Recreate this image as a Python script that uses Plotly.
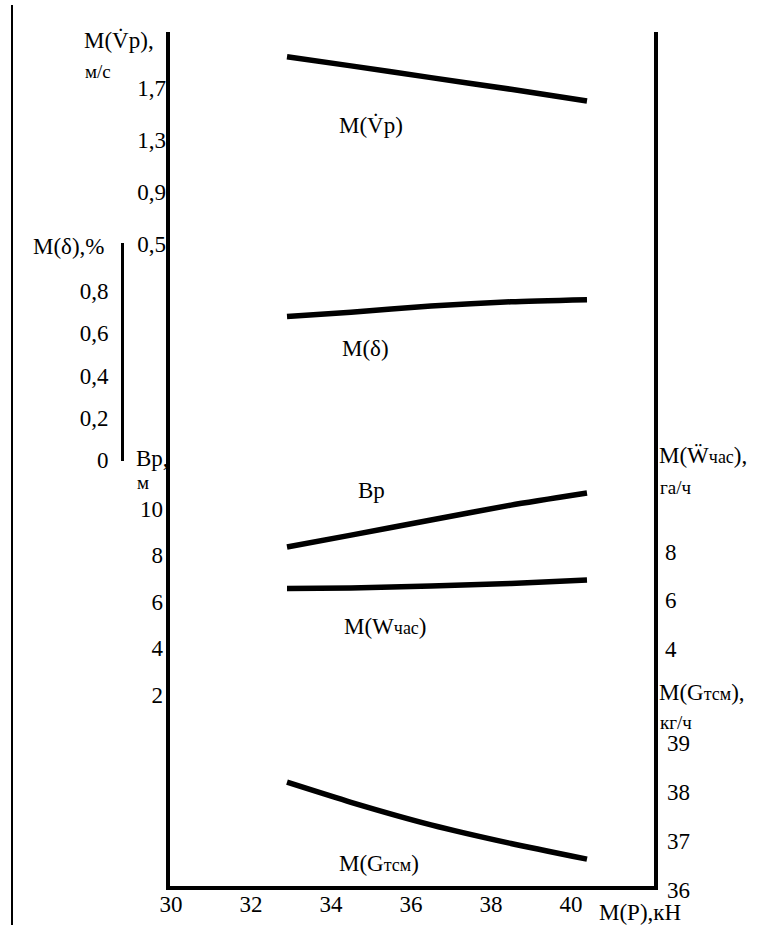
import plotly.graph_objects as go

# ---- data ----
P = [32.9, 34.5, 36.5, 38.5, 40.4]            # M(P), kN
Vp = [1.94, 1.87, 1.78, 1.69, 1.60]           # M(Vp), m/s
delta = [0.68, 0.70, 0.73, 0.75, 0.76]        # M(delta), %
Bp = [8.35, 8.86, 9.51, 10.15, 10.67]         # Bp, m
Wchas = [6.47, 6.49, 6.58, 6.68, 6.82]        # M(W), ha/h
Gtsm = [38.20, 37.79, 37.33, 36.95, 36.63]    # M(G), kg/h

x_ticks = [30, 32, 34, 36, 38, 40]
vp_ticks = [0.5, 0.9, 1.3, 1.7]
delta_ticks = [0, 0.2, 0.4, 0.6, 0.8]
bp_ticks = [2, 4, 6, 8, 10]
w_ticks = [4, 6, 8]
g_ticks = [36, 37, 38, 39]

# ---- geometry (pixels) ----
W, H = 764, 930
L, R, T, B = 170, 654, 32, 886      # plot frame
PB = 896                            # bottom of the paper area
FONT = "Liberation Serif"
FS = 23
FS_S = 19


def yp(p):
    return (PB - p) / (PB - T)


def xp(p):
    return p / W


def yrange(v0, p0, k, top=T, bot=B):
    return [v0 - (bot - p0) / k, v0 + (p0 - top) / k]


def comma(vals):
    return [("%g" % v).replace(".", ",") for v in vals]


line = dict(color="black", width=5.5, shape="spline", smoothing=0.6)
fig = go.Figure()
fig.add_trace(go.Scatter(x=[], y=[], xaxis="x", yaxis="y", mode="lines", showlegend=False))
fig.add_trace(go.Scatter(x=P, y=Vp, xaxis="x", yaxis="y2", mode="lines", line=line, showlegend=False))
fig.add_trace(go.Scatter(x=P, y=delta, xaxis="x", yaxis="y3", mode="lines", line=line, showlegend=False))
fig.add_trace(go.Scatter(x=P, y=Bp, xaxis="x", yaxis="y4", mode="lines", line=line, showlegend=False))
fig.add_trace(go.Scatter(x=P, y=Wchas, xaxis="x", yaxis="y5", mode="lines", line=line, showlegend=False))
fig.add_trace(go.Scatter(x=P, y=Gtsm, xaxis="x", yaxis="y6", mode="lines", line=line, showlegend=False))

tf = dict(family=FONT, size=FS, color="black")
common = dict(showgrid=False, zeroline=False, ticks="", showline=False, tickfont=tf, automargin=False)
main_dom = [yp(B), 1]

fig.update_layout(
    width=W, height=H,
    margin=dict(l=0, r=0, t=T, b=H - PB, pad=0, autoexpand=False),
    paper_bgcolor="white", plot_bgcolor="rgba(0,0,0,0)",
    font=dict(family=FONT, size=FS, color="black"),
    separators=", ",
    xaxis=dict(domain=[xp(L), xp(R)], anchor="y", range=[29.975, 42.075],
               tickvals=x_ticks, showline=True, linewidth=4, linecolor="black",
               showgrid=False, zeroline=False, ticks="", tickfont=tf,
               ticklabelstandoff=-6, automargin=False),
    yaxis=dict(domain=main_dom, anchor="x", range=[0, 1], showline=True, linewidth=4,
               linecolor="black", mirror=True, showticklabels=False,
               showgrid=False, zeroline=False, ticks="", automargin=False),
    yaxis2=dict(overlaying="y", anchor="x", side="left", range=yrange(1.7, 88, 130),
                tickvals=vp_ticks, ticktext=comma(vp_ticks), ticklabelstandoff=3, **common),
    yaxis3=dict(anchor="free", position=xp(122), side="left",
                domain=[yp(461), yp(243)], range=[(460 - 461) / 211, (460 - 243) / 211],
                tickvals=delta_ticks, ticktext=comma(delta_ticks),
                showgrid=False, zeroline=False, ticks="", tickfont=tf, automargin=False,
                showline=True, linewidth=3, linecolor="black", ticklabelstandoff=8),
    yaxis4=dict(overlaying="y", anchor="x", side="left", range=yrange(6, 601.6, 23.25),
                tickvals=bp_ticks, ticktext=comma(bp_ticks), ticklabelstandoff=6, **common),
    yaxis5=dict(overlaying="y", anchor="x", side="right", range=yrange(6, 600, 24.25),
                tickvals=w_ticks, ticktext=comma(w_ticks), ticklabelstandoff=10, **common),
    yaxis6=dict(anchor="free", position=xp(R), side="right", domain=[0, 1],
                range=yrange(37.5, 816.5, 49, T, PB),
                tickvals=g_ticks, ticktext=comma(g_ticks), ticklabelstandoff=12, **common),
)

ann = []


def txt(text, x, y, size=FS, xanchor="left"):
    ann.append(dict(text=text, x=xp(x), y=yp(y), xref="paper", yref="paper",
                    xanchor=xanchor, yanchor="middle", showarrow=False,
                    font=dict(family=FONT, size=size, color="black")))


SM = "<span style='font-size:18px'>%s</span>"

# axis titles
txt("M(V\u0307р),", 82, 40)
txt("м/с", 83, 72, size=FS_S)
txt("M(δ),%", 31, 247)
txt("Bр,", 134, 459)
txt("м", 135, 483, size=FS_S)
txt("M(Ẅ" + SM % "час" + "),", 657, 455)
txt("га/ч", 658, 487, size=FS_S)
txt("M(G" + SM % "тсм" + "),", 657, 692)
txt("кг/ч", 658, 722, size=FS_S)
txt("M(P),кН", 597, 913)

# curve labels (placed in data coordinates of each axis)
curve_labels = [
    ("M(V\u0307р)", 35.0, 1.41, "y2"),
    ("M(δ)", 34.85, 0.53, "y3"),
    ("Bр", 35.0, 10.8, "y4"),
    ("M(W" + SM % "час" + ")", 35.35, 4.89, "y5"),
    ("M(G" + SM % "тсм" + ")", 35.2, 36.55, "y6"),
]
for t, x, y, yr in curve_labels:
    ann.append(dict(text=t, x=x, y=y, xref="x", yref=yr, showarrow=False,
                    xanchor="center", yanchor="middle",
                    font=dict(family=FONT, size=FS, color="black")))

fig.update_layout(annotations=ann)

# page margin rule on the far left
fig.add_shape(type="line", xref="paper", yref="paper", x0=xp(12), x1=xp(12),
              y0=yp(925), y1=yp(5), line=dict(color="black", width=2))

fig.write_html("out.html")
